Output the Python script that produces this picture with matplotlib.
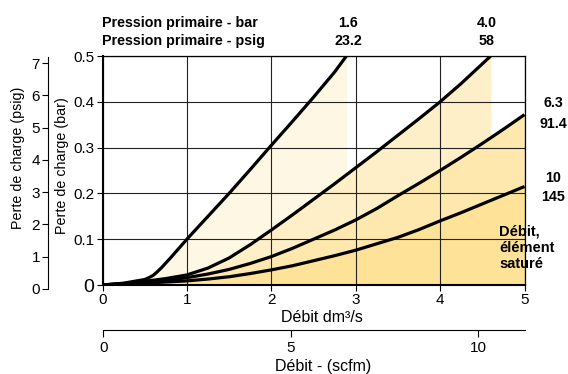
import numpy as np
import matplotlib
matplotlib.use("Agg")
import matplotlib.pyplot as plt

plt.rcParams['font.family'] = ['Liberation Sans', 'DejaVu Sans']

# pressure curves (x = débit dm3/s, y = perte de charge bar)
x_16 = [0, 0.25, 0.5, 0.55, 0.6, 0.65, 0.7, 0.75, 0.8, 0.9, 1.0, 1.25, 1.5, 1.75, 2.0, 2.25, 2.5, 2.75, 2.89]
y_16 = [0, 0.004, 0.012, 0.016, 0.021, 0.029, 0.038, 0.048, 0.058, 0.079, 0.1, 0.15, 0.2, 0.252, 0.305, 0.357, 0.41, 0.465, 0.5]

x_40 = [0, 0.25, 0.5, 0.75, 1, 1.25, 1.5, 1.75, 2, 2.25, 2.5, 2.75, 3, 3.25, 3.5, 3.75, 4, 4.25, 4.6]
y_40 = [0, 0.003, 0.008, 0.014, 0.022, 0.037, 0.059, 0.088, 0.12, 0.153, 0.187, 0.221, 0.256, 0.291, 0.327, 0.363, 0.4, 0.44, 0.5]

x_63 = [0, 0.25, 0.5, 0.75, 1, 1.25, 1.5, 1.75, 2, 2.25, 2.5, 2.75, 3, 3.25, 3.5, 3.75, 4, 4.25, 4.5, 4.75, 5]
y_63 = [0, 0.003, 0.006, 0.01, 0.016, 0.024, 0.034, 0.047, 0.062, 0.08, 0.1, 0.12, 0.142, 0.167, 0.195, 0.222, 0.25, 0.279, 0.309, 0.34, 0.372]

x_10 = [0, 0.5, 1, 1.25, 1.5, 1.75, 2, 2.25, 2.5, 2.75, 3, 3.25, 3.5, 3.75, 4, 4.25, 4.5, 4.75, 5]
y_10 = [0, 0.004, 0.009, 0.013, 0.018, 0.025, 0.033, 0.042, 0.053, 0.064, 0.076, 0.09, 0.104, 0.121, 0.14, 0.158, 0.177, 0.196, 0.215]

curves = [(x_16, y_16), (x_40, y_40), (x_63, y_63), (x_10, y_10)]
fills = ['#fef7e3', '#feefc8', '#fee8ae', '#fee297']

bar_ticks = [0, 0.1, 0.2, 0.3, 0.4, 0.5]
bar_labels = ['0', '0.1', '0.2', '0.3', '0.4', '0.5']
psig_ticks = [0, 1, 2, 3, 4, 5, 6, 7]
flow_ticks = [0, 1, 2, 3, 4, 5]
scfm_ticks = [0, 5, 10]

fig = plt.figure(figsize=(5.68, 3.74), dpi=100)
W, H = 568, 374

def box(x0, y0, x1, y1):
    # pixel box (top-left origin) -> figure fraction
    return [x0 / W, 1 - y1 / H, (x1 - x0) / W, (y1 - y0) / H]

ax = fig.add_axes(box(102.5, 56, 524.5, 285))
for (xs, ys), c in zip(curves, fills):
    ax.fill_between(xs, ys, 0, color=c, lw=0, zorder=1)
ax.grid(True, color='#222222', lw=0.8, zorder=2)
for xs, ys in curves:
    ax.plot(xs, ys, color='black', lw=2.3, zorder=3,
            solid_capstyle='butt', solid_joinstyle='round')
ax.set_xlim(0, 5)
ax.set_ylim(0, 0.5)
ax.set_xticks(flow_ticks)
ax.set_yticks(bar_ticks)
ax.set_yticklabels(bar_labels)
ax.tick_params(labelsize=11, length=4, width=0.8, pad=2)
ax.get_yticklabels()[0].set_fontsize(14)
for s in ax.spines.values():
    s.set_linewidth(0.9)
ax.spines['left'].set_linewidth(1.5)
ax.spines['bottom'].set_linewidth(1.5)

# psig axis
axp = fig.add_axes(box(48.3, 56.7, 48.4, 289))
axp.set_ylim(0, 7.2)
axp.set_yticks(psig_ticks)
axp.set_xticks([])
for k in ['top', 'right', 'bottom']:
    axp.spines[k].set_visible(False)
axp.spines['left'].set_linewidth(0.8)
axp.tick_params(labelsize=11, length=4, width=0.8, pad=2)
axp.patch.set_visible(False)

# scfm axis
axs = fig.add_axes(box(103.3, 330, 525, 330.1))
axs.set_xlim(0, 11.24)
axs.set_xticks(scfm_ticks)
axs.set_yticks([])
for k in ['top', 'right', 'left']:
    axs.spines[k].set_visible(False)
axs.spines['bottom'].set_linewidth(0.8)
axs.tick_params(labelsize=11, length=5, width=0.8, pad=3)
axs.patch.set_visible(False)

def t(x, y, s, **kw):
    fig.text(x / W, 1 - y / H, s, **kw)

t(322, 318, 'Débit dm³/s', ha='center', va='center', fontsize=11.5)
t(323, 366, 'Débit - (scfm)', ha='center', va='center', fontsize=11.5)
t(62, 166, 'Perte de charge (bar)', ha='center', va='center', rotation=90, fontsize=10.3)
t(18, 158, 'Perte de charge (psig)', ha='center', va='center', rotation=90, fontsize=10.3)

bold = dict(fontsize=10.3, fontweight='bold', va='center')
t(101.5, 23, 'Pression primaire - bar', ha='left', **bold)
t(101.5, 41, 'Pression primaire - psig', ha='left', **bold)
t(348, 23, '1.6', ha='center', **bold)
t(348, 41, '23.2', ha='center', **bold)
t(487, 23, '4.0', ha='center', **bold)
t(487, 41, '58', ha='center', **bold)
t(553, 103, '6.3', ha='center', **bold)
t(553, 124, '91.4', ha='center', **bold)
t(553, 178, '10', ha='center', **bold)
t(553, 197, '145', ha='center', **bold)
t(499, 248, 'Débit,\nélément\nsaturé', ha='left', fontsize=10.5, fontweight='bold',
  va='center', linespacing=1.2)

fig.savefig('out.png', dpi=100)
